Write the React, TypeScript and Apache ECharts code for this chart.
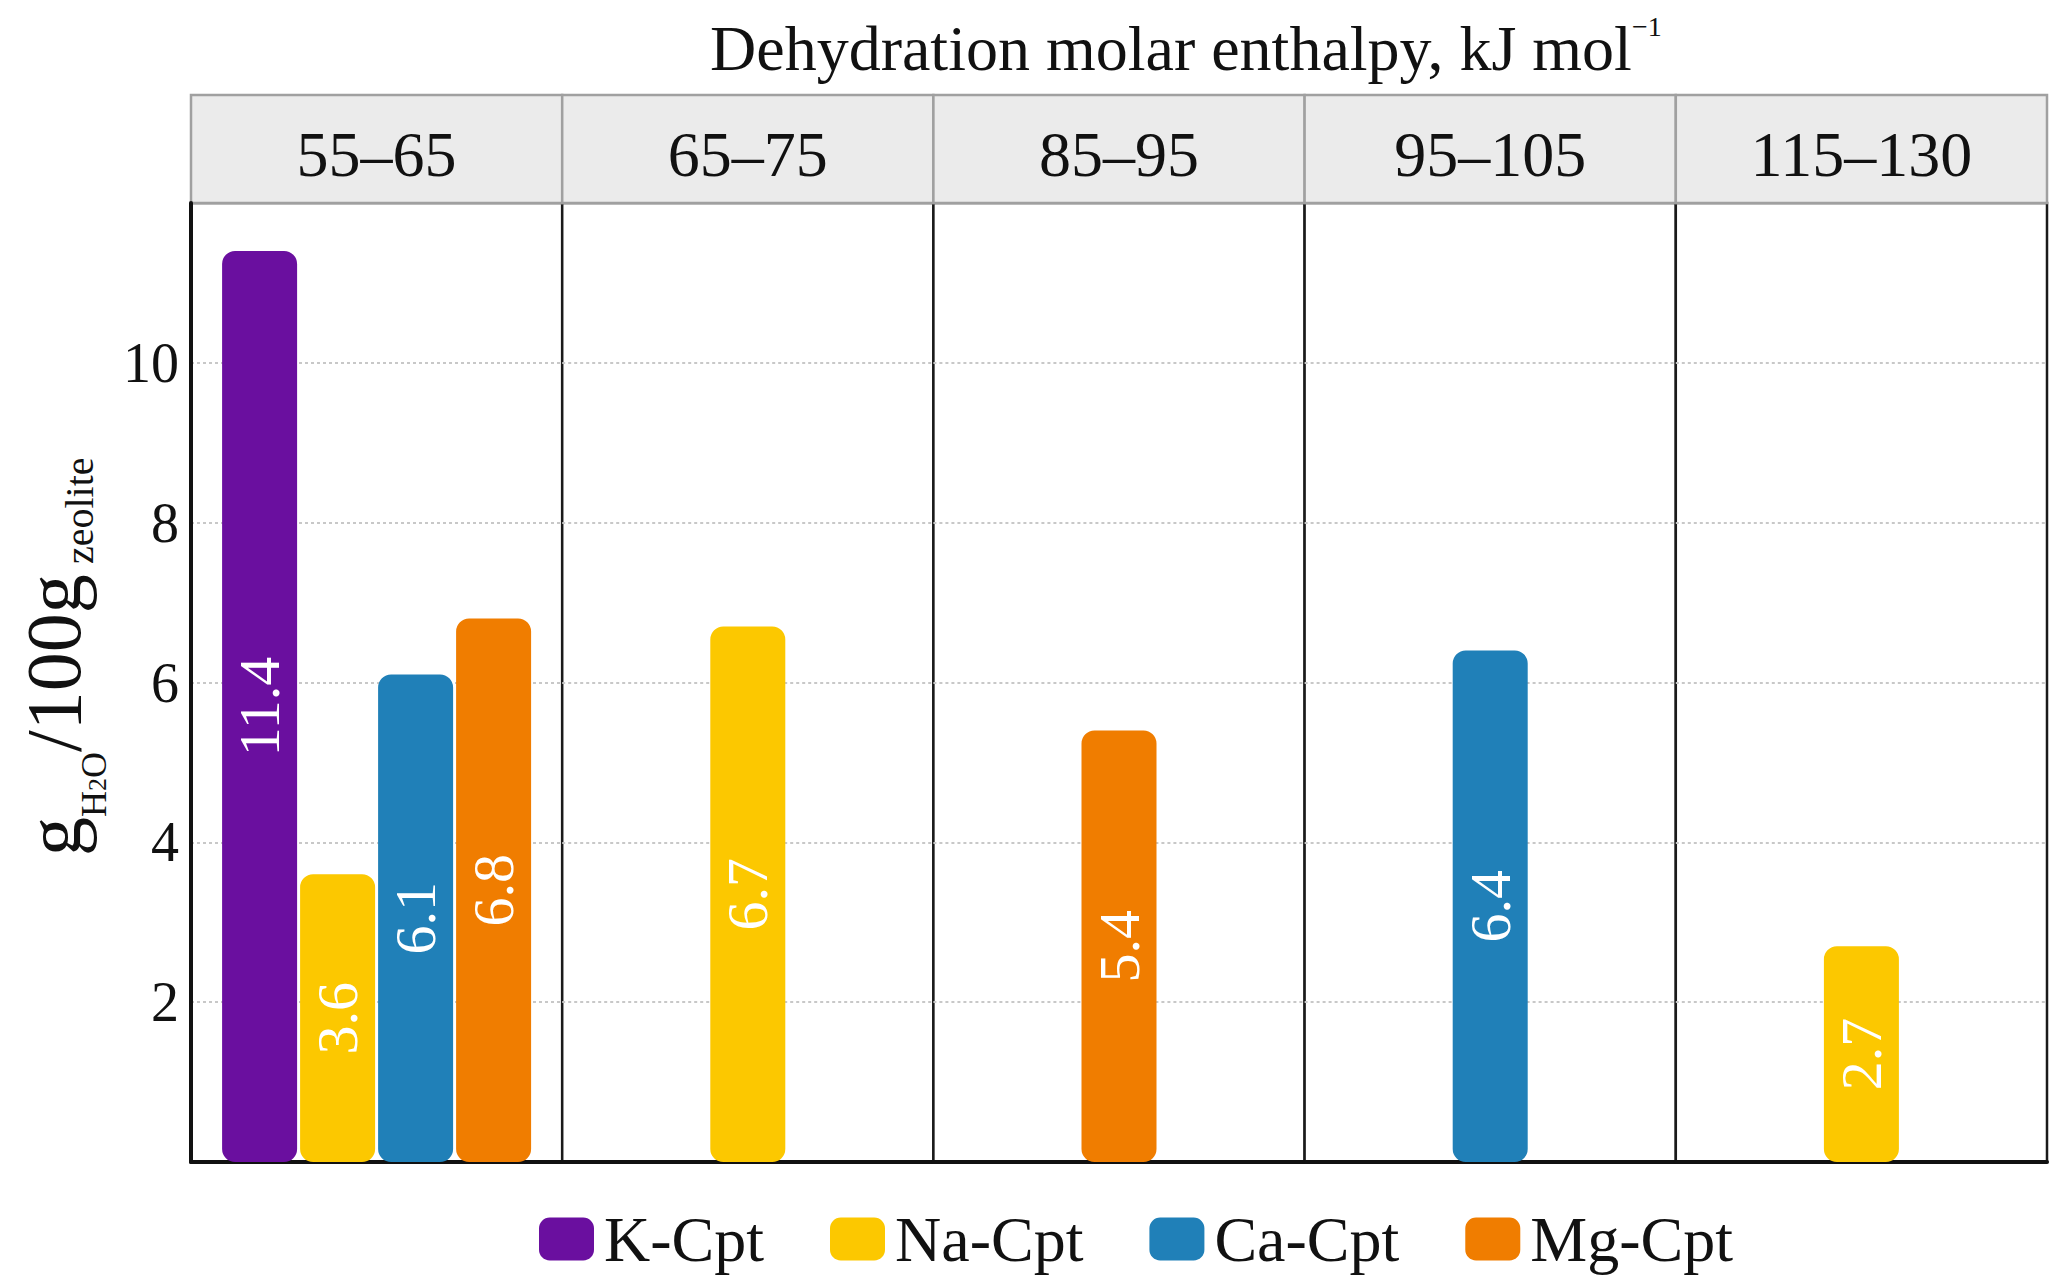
import React, { useEffect, useRef } from "react";
import * as echarts from "echarts";

const FONT = '"Liberation Serif", "Times New Roman", serif';

const categories = ["55–65", "65–75", "85–95", "95–105", "115–130"];
const seriesNames = ["K-Cpt", "Na-Cpt", "Ca-Cpt", "Mg-Cpt"];
const kCpt = [11.4, null, null, null, null];
const naCpt = [3.6, 6.7, null, null, 2.7];
const caCpt = [6.1, null, null, 6.4, null];
const mgCpt = [6.8, null, 5.4, null, null];
const seriesColors = ["#6a0f9f", "#fcc800", "#2080b8", "#f07d00"];
const yMin = 0;
const yMax = 12;
const yInterval = 2;

const allData: (number | null)[][] = [kCpt, naCpt, caCpt, mgCpt];

const PLOT_LEFT = 191;
const PLOT_RIGHT = 2047;
const PLOT_TOP = 203;
const PLOT_BOTTOM = 1162;
const HEADER_TOP = 95;

// y-axis title pieces: [text, fontSize, baseline x, start y]
const yTitlePieces: [string, number, number, number][] = [
  ["g", 78, 80, 856],
  ["H", 36, 106, 817],
  ["2", 26, 106, 791],
  ["O", 36, 106, 778],
  ["/100g", 78, 80, 752],
  ["zeolite", 40, 93, 564],
];

export default function App() {
  const ref = useRef<HTMLDivElement>(null);
  useEffect(() => {
    if (!ref.current) return;
    const chart = echarts.init(ref.current, null, { renderer: "svg" });
    const n = categories.length;
    const pw = (PLOT_RIGHT - PLOT_LEFT) / n;
    const grids: any[] = [];
    const xAxes: any[] = [];
    const yAxes: any[] = [];
    const series: any[] = [];
    for (let i = 0; i < n; i++) {
      grids.push({
        left: PLOT_LEFT + i * pw,
        top: PLOT_TOP,
        width: pw,
        height: PLOT_BOTTOM - PLOT_TOP,
        show: true,
        backgroundColor: "#ffffff",
        borderColor: "#1a1a1a",
        borderWidth: 2.5,
      });
    }
    for (let i = 0; i < n; i++) {
      grids.push({
        left: PLOT_LEFT + i * pw,
        top: HEADER_TOP,
        width: pw,
        height: PLOT_TOP - HEADER_TOP,
        show: true,
        backgroundColor: "#ebebeb",
        borderColor: "#a0a0a0",
        borderWidth: 2.5,
      });
    }
    for (let i = 0; i < n; i++) {
      xAxes.push({
        gridIndex: i,
        type: "category",
        data: [categories[i]],
        axisLabel: { show: false },
        axisTick: { show: false },
        axisLine: { show: true, lineStyle: { color: "#111", width: 4 } },
        splitLine: { show: false },
      });
      yAxes.push({
        gridIndex: i,
        type: "value",
        min: yMin,
        max: yMax,
        interval: yInterval,
        axisLine: { show: i === 0, lineStyle: { color: "#111", width: 4 } },
        axisTick: { show: false },
        axisLabel: {
          show: i === 0,
          formatter: (v: number) => (v === yMin || v === yMax ? "" : String(v)),
          fontFamily: FONT,
          fontSize: 56,
          color: "#111",
          margin: 12,
        },
        splitLine: {
          show: true,
          showMinLine: false,
          showMaxLine: false,
          lineStyle: { color: "#c8c8c8", type: [3, 3], width: 2 },
        },
      });
      for (let s = 0; s < allData.length; s++) {
        const v = allData[s][i];
        if (v === null || v === undefined) continue;
        series.push({
          type: "bar",
          name: seriesNames[s],
          xAxisIndex: i,
          yAxisIndex: i,
          data: [v],
          barWidth: 75,
          barGap: "4%",
          itemStyle: { color: seriesColors[s], borderRadius: 13 },
          label: {
            show: true,
            position: "inside",
            rotate: 90,
            color: "#ffffff",
            fontFamily: FONT,
            fontSize: 58,
            formatter: (p: any) => Number(p.value).toFixed(1),
          },
        });
      }
    }
    for (let i = 0; i < n; i++) {
      xAxes.push({
        gridIndex: n + i,
        type: "category",
        data: [categories[i]],
        position: "top",
        offset: -59,
        axisLine: { show: false },
        axisTick: { show: false },
        splitLine: { show: false },
        axisLabel: {
          fontFamily: FONT,
          fontSize: 64,
          color: "#111",
          margin: 0,
          verticalAlign: "middle",
        },
      });
      yAxes.push({ gridIndex: n + i, type: "value", show: false });
    }

    const yTitle = yTitlePieces.map(([text, fs, bx, sy]) => ({
      type: "text",
      x: bx - 0.3375 * fs,
      y: sy,
      rotation: Math.PI / 2,
      style: {
        text,
        fontFamily: FONT,
        fontSize: fs,
        fill: "#111",
        align: "left",
        verticalAlign: "middle",
      },
    }));

    chart.setOption({
      animation: false,
      backgroundColor: "#ffffff",
      title: {
        text: "Dehydration molar enthalpy, kJ mol{sup|−1}",
        left: 710,
        top: 12,
        padding: 0,
        textStyle: {
          fontFamily: FONT,
          fontSize: 64,
          fontWeight: "normal",
          color: "#111",
          lineHeight: 72,
          rich: {
            sup: { fontFamily: FONT, fontSize: 28, lineHeight: 30, color: "#111", verticalAlign: "top" },
          },
        },
      },
      legend: {
        data: seriesNames,
        left: 534,
        top: 1199,
        itemWidth: 55,
        itemHeight: 43,
        itemGap: 66,
        icon: "roundRect",
        textStyle: {
          fontFamily: FONT,
          fontSize: 64,
          color: "#111",
          lineHeight: 70,
          padding: [0, 0, 0, 5],
        },
      },
      graphic: yTitle,
      grid: grids,
      xAxis: xAxes,
      yAxis: yAxes,
      series,
    });
    return () => chart.dispose();
  }, []);
  return (
    <div
      ref={ref}
      style={{ position: "absolute", left: 0, top: 0, width: 2069, height: 1287, background: "#fff" }}
    />
  );
}
